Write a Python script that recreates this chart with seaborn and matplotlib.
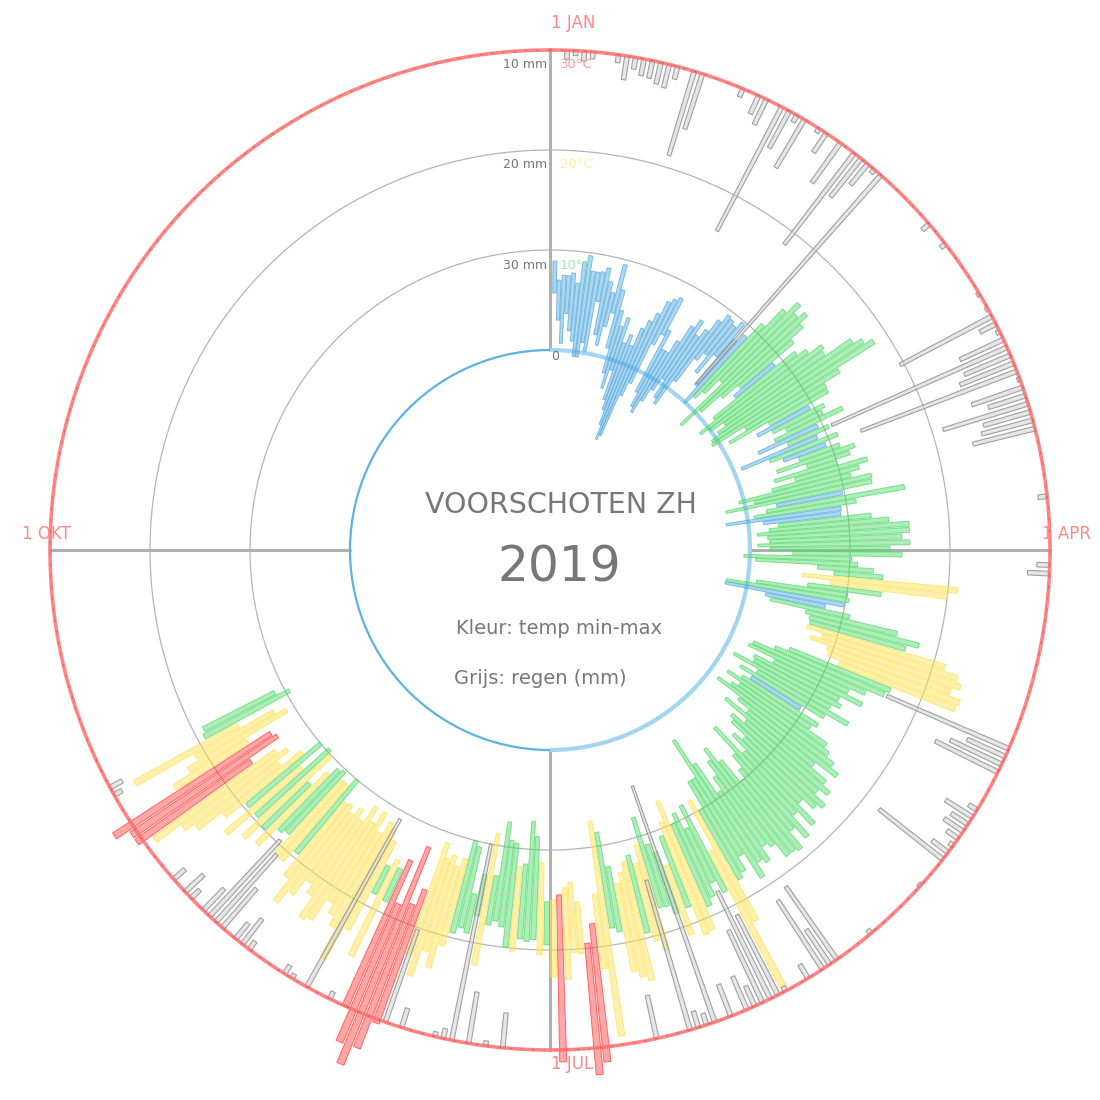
import numpy as np
import matplotlib
matplotlib.use("Agg")
import matplotlib.pyplot as plt
from matplotlib.colors import to_rgba
import seaborn as sns

sns.set_theme(style="white")
plt.rcParams['font.family'] = ['DejaVu Sans']

nan = float('nan')

# ---------------- data ----------------
# day index 0 = 1 Jan 2019; temperatures in degC
TMIN = [nan,
        5.7, 3.0, 0.7, 3.7, 2.0, 1.0, -0.5, -0.5, 1.0, 0.2,
        5.3, 2.0, 1.0, 3.0, 4.5, 1.0, -1.5, -3.0, -1.0, -4.0,
        -5.0, -6.5, -8.0, -7.5, -3.0, -1.5, 3.0, 4.3, -2.0, -3.5,
        -4.0, -2.5, -1.0, 0.5, -1.5, -2.0, 1.0, 4.0, 5.0, 3.0, 5.5, 2.0, 0.0,
        1.0, 2.0, 4.0, -1.9, 0.5, 3.0, 5.0, 4.0, 1.0, -1.0, 0.0, 1.5, 0.5, -0.5, -0.7, 3.0,
        0.9, 5.3, 3.7, 5.2, 6.5, 5.0, 3.0, 6.0, 0.8, 3.7, 5.0, 6.5, 4.0, 7.0, 3.5, 5.5,
        3.0, -0.5, 1.0, -2.0, 3.1, 2.0, 0.7, -2.2, 1.5, 3.0, 2.0, 0.8, 1.8, 2.0,
        0.8, 2.0, 4.3, -0.6, 0.6, 6.8, 8.5, 5.4, 8.2, 6.0, 0.9, -2.1, -2.2, 2.0, 2.6,
        6.3, 6.8, 7.0, 6.8, 8.5, 7.5, 9.4, 9.7, 11.0, 5.9, 4.5, 2.3, 2.0, 5.0, 3.0,
        3.2, 1.1, 4.0, 2.3, 3.8, 3.0, 1.5, 3.2, 2.5, 1.1, 4.0, 5.5, 3.0, 6.0, 4.5, 5.0,
        7.0, 6.0, 8.0, 4.2, 7.5, 9.0, 10.0, 7.1, 5.2, 6.4, 8.0, 9.5, 5.8, 2.7, 7.0,
        7.0, 10.0, 8.7, 14.1, 8.7, 11.0, 9.1, 10.0, 7.3, 9.4, 10.7, 13.6, 12.0, 11.0, 8.0, 10.7,
        12.5, 11.5, 12.0, 13.0, 14.0, 12.2, 8.6, 7.4, 14.7, 17.6, 19.5, 15.3, 13.3, 13.8, 14.5, 15.0,
        15.2, 11.3, 8.7, 7.2, 11.5, 11.8, 9.5, 9.3, 7.5, 13.0, 8.8, 13.1, 15.2, 10.5, 10.0, 12.0,
        13.0, 12.0, 12.5, 11.0, 16.2, 18.0, 12.1, 18.5, 14.0,
        15.2, 14.5, 15.5, 13.0, 12.0, 11.5, 13.0, 11.0, 12.5, 11.0, 13.0, 12.0, 13.0, 12.3, 12.5,
        10.0, 11.0, 11.0, 10.2, 10.5, 11.5, 13.5, 10.0, 9.7, 13.0, 10.0, 12.0, 14.5, 13.0, 14.0,
        16.6, 13.0, 13.4, 15.8, 10.8, 12.0, 15.8, 9.6, 11.0]

TMAX = [nan,
        8.9, 7.0, 7.5, 7.5, 7.8, 6.8, 9.0, 9.7, 8.2, 8.2,
        8.3, 8.8, 7.5, 6.5, 9.5, 7.0, 5.0, 3.5, 4.5, 2.0,
        3.0, 2.0, 4.0, 5.0, 6.0, 7.5, 8.0, 8.4, 5.0, 3.0,
        3.0, 4.5, 6.5, 7.5, 6.0, 7.0, 8.5, 9.5, 9.3, 9.0, 9.8, 8.0, 9.0,
        11.0, 13.5, 15.0, 14.0, 14.8, 13.7, 12.0, 9.1, 11.5, 12.5, 14.0, 13.7, 16.7, 17.6, 18.5, 14.0,
        12.1, 12.0, 9.6, 11.0, 10.5, 12.5, 9.5, 10.5, 9.0, 11.0, 9.5, 10.8, 12.2, 11.5, 10.0, 13.0,
        12.0, 11.0, 13.0, 12.9, 9.8, 16.0, 11.0, 9.4, 9.3, 12.3, 14.0, 16.0, 16.0, 15.2,
        16.0, 14.0, 15.2, 10.2, 10.8, 12.4, 13.4, 21.0, 20.0, 13.4, 10.1, 10.3, 9.9, 8.1, 10.7,
        15.7, 18.1, 16.9, 21.2, 22.7, 23.3, 22.5, 23.7, 23.5, 16.8, 16.4, 14.6, 13.0, 14.8, 12.5,
        13.0, 12.1, 14.5, 12.1, 9.6, 12.0, 11.5, 13.8, 14.5, 15.5, 16.5, 14.0, 16.0, 17.0, 16.0, 17.5,
        16.9, 15.5, 18.0, 16.0, 18.5, 17.0, 19.0, 18.7, 18.7, 17.0, 16.5, 18.0, 17.5, 19.0, 16.0,
        17.5, 18.0, 22.4, 29.4, 18.4, 17.0, 18.3, 19.0, 21.3, 21.5, 18.3, 21.0, 18.5, 17.5, 17.4, 21.7,
        20.5, 19.5, 24.2, 23.7, 23.0, 18.8, 18.3, 29.1, 22.2, 31.5, 32.7, 20.5, 20.3, 23.0, 31.2, 22.7,
        19.5, 20.5, 19.0, 19.2, 19.0, 20.3, 19.9, 18.0, 17.5, 18.0, 22.2, 17.3, 19.2, 18.8, 19.5, 21.0,
        23.5, 22.0, 24.8, 22.9, 30.4, 33.4, 35.5, 33.5, 30.0,
        18.8, 25.2, 18.6, 23.0, 26.7, 23.5, 22.5, 21.5, 24.0, 24.4, 22.0, 21.0, 23.0, 24.6, 22.0,
        19.5, 21.0, 21.0, 18.6, 19.0, 21.5, 19.9, 22.0, 19.6, 23.0, 19.6, 22.0, 24.9, 26.0, 29.0,
        30.6, 30.6, 32.1, 24.4, 22.3, 21.0, 27.6, 19.3, 19.0]

# rain (mm) on the days that had rain
RAIN_DAY = [2, 3, 4, 5, 8, 9, 10, 11, 12, 13,
            14, 15, 17, 18, 23, 25, 26, 28, 29, 30,
            31, 33, 34, 36, 38, 39, 40, 41, 42, 50,
            53, 60, 62, 63, 64, 65, 66, 67, 68, 69,
            70, 71, 72, 73, 74, 75, 76, 77, 85, 93,
            94, 115, 116, 117, 118, 123, 124, 125, 126, 127,
            128, 129, 130, 134, 142, 147, 148, 149, 151, 154,
            155, 156, 157, 158, 159, 161, 163, 164, 165, 166,
            170, 188, 190, 192, 194, 195, 196, 200, 202, 209,
            212, 214, 215, 220, 221, 222, 224, 225, 226, 227,
            229, 230, 232, 244, 245]
RAIN_MM = [0.9, 0.5, 1.0, 0.7, 0.8, 2.4, 1.2, 1.7, 1.8, 2.2,
           2.4, 1.3, 8.8, 5.8, 0.9, 2.0, 2.8, 14.0, 4.2, 0.8,
           5.6, 0.5, 2.3, 4.9, 11.5, 4.9, 2.7, 0.5, 27.8, 0.9,
           0.6, 0.3, 0.3, 10.4, 1.8, 0.4, 4.8, 19.2, 5.0, 5.8,
           16.7, 0.3, 5.4, 3.9, 8.9, 4.9, 5.3, 6.4, 0.9, 1.3,
           2.2, 13.3, 4.2, 5.7, 7.0, 1.0, 3.2, 2.0, 2.3, 1.4,
           0.5, 2.0, 8.1, 0.3, 0.5, 8.9, 4.2, 8.2, 1.6, 0.5,
           9.0, 12.0, 8.0, 2.2, 3.6, 3.4, 25.0, 1.2, 1.7, 15.6,
           4.4, 3.5, 0.5, 5.2, 20.0, 1.0, 0.5, 2.0, 9.8, 0.8,
           19.2, 0.5, 1.0, 1.0, 3.2, 2.0, 5.2, 9.1, 10.4, 3.0,
           1.2, 2.5, 1.5, 0.9, 1.4]

MONTH_LABELS = ["1 JAN", "1 APR", "1 JUL", "1 OKT"]
RAIN_TICKS = ["10 mm", "20 mm", "30 mm", "0"]
TEMP_TICKS = ["30°C", "20°C", "10°C"]
TITLE = "VOORSCHOTEN ZH"
YEAR = "2019"
NOTE1 = "Kleur: temp min-max"
NOTE2 = "Grijs: regen (mm)"

assert len(TMIN) == len(TMAX)
assert len(RAIN_DAY) == len(RAIN_MM)

# ---------------- style ----------------
PAL = sns.color_palette(["#4FA8DE", "#4CD964", "#FFE14A", "#FF3B3B"])
TXT = "#777777"
SALMON = "#ff8a8a"

R0 = 200.0      # radius of 0 degC
K = 10.0        # px per degC / per mm
ROUT = 500.0    # outer ring (rain baseline)
DAYW = 2 * np.pi / 365.0

W = H = 1100
RMAX = 560.0
fig = plt.figure(figsize=(11, 11), dpi=100)
fig.patch.set_facecolor("white")
ax = fig.add_axes([(550 - RMAX) / W, (550 - RMAX) / H, 2 * RMAX / W, 2 * RMAX / H],
                  projection="polar")
ax.set_theta_zero_location("N")
ax.set_theta_direction(-1)
ax.set_ylim(0, RMAX)
ax.set_axis_off()

full = np.linspace(0, 2 * np.pi, 721)

# grid circles
for rr in (300, 400):
    ax.plot(full, np.full_like(full, rr), color="#b5b5b5", lw=0.9, zorder=1)

# cross axes (outside inner circle)
for th in (0, np.pi / 2, np.pi, 3 * np.pi / 2):
    ax.plot([th, th], [R0, ROUT], color="#b0b0b0", lw=2.2, zorder=1.2)

# inner 0 degC circle: light and wide on the right half, thin and darker on the left
right = np.linspace(0, np.pi, 360)
ax.plot(right, np.full_like(right, R0), color="#a3d4f1", lw=3.0, zorder=1.5,
        solid_capstyle="butt")
left = np.linspace(np.pi, 2 * np.pi, 360)
ax.plot(left, np.full_like(left, R0), color="#5cb2e3", lw=1.6, zorder=1.6,
        solid_capstyle="butt")

# temperature bars
def tcolor(tmax):
    if tmax < 10:
        return PAL[0]
    if tmax < 20:
        return PAL[1]
    if tmax < 30:
        return PAL[2]
    return PAL[3]

for i, (lo, hi) in enumerate(zip(TMIN, TMAX)):
    if np.isnan(lo) or np.isnan(hi):
        continue
    c = tcolor(hi)
    ax.bar(i * DAYW, K * (hi - lo), width=0.8 * DAYW, bottom=R0 + K * lo,
           color=to_rgba(c, 0.45), edgecolor=to_rgba(c, 0.7), linewidth=0.7,
           zorder=2, clip_on=False)

# rain bars (hanging inward from outer ring)
for d, mm in zip(RAIN_DAY, RAIN_MM):
    ax.bar(d * DAYW, K * mm, width=0.55 * DAYW, bottom=ROUT - K * mm,
           color=to_rgba("#d6d6d6", 0.6), edgecolor=to_rgba("#8c8c8c", 0.8),
           linewidth=0.8, zorder=3, clip_on=False)

# outer red ring
ax.plot(full, np.full_like(full, ROUT), color="#ff7070", lw=2.6, alpha=0.85, zorder=4)
ax.plot(full, np.full_like(full, ROUT), color="#d23c3c", lw=0.9, alpha=0.45,
        dashes=(2, 7), zorder=4.1)

# ---------------- texts ----------------
def ft(x, y, s, **kw):
    fig.text(x / W, 1 - y / H, s, **kw)

# month labels
ft(551, 23, MONTH_LABELS[0], color=SALMON, fontsize=12, ha="left", va="center")
ft(1042, 534, MONTH_LABELS[1], color=SALMON, fontsize=12, ha="left", va="center")
ft(551, 1064, MONTH_LABELS[2], color=SALMON, fontsize=12, ha="left", va="center")
ft(22, 534, MONTH_LABELS[3], color=SALMON, fontsize=12, ha="left", va="center")

# ring labels
for y, s in zip((65, 165, 265), RAIN_TICKS[:3]):
    ft(547, y, s, color=TXT, fontsize=9, ha="right", va="center")
ft(551, 356, RAIN_TICKS[3], color=TXT, fontsize=9, ha="left", va="center")
for y, s, c in zip((65, 165, 265), TEMP_TICKS, ("#ff9c9c", "#fff0a6", "#a4e8b0")):
    ft(560, y, s, color=c, fontsize=9.5, ha="left", va="center")

# centre texts
ft(561, 505, TITLE, color=TXT, fontsize=20.5, ha="center", va="center")
ft(559, 567, YEAR, color=TXT, fontsize=35, ha="center", va="center")
ft(559, 628, NOTE1, color=TXT, fontsize=14, ha="center", va="center")
ft(540, 678, NOTE2, color=TXT, fontsize=14, ha="center", va="center")

fig.savefig("out.png", dpi=100, facecolor="white")
